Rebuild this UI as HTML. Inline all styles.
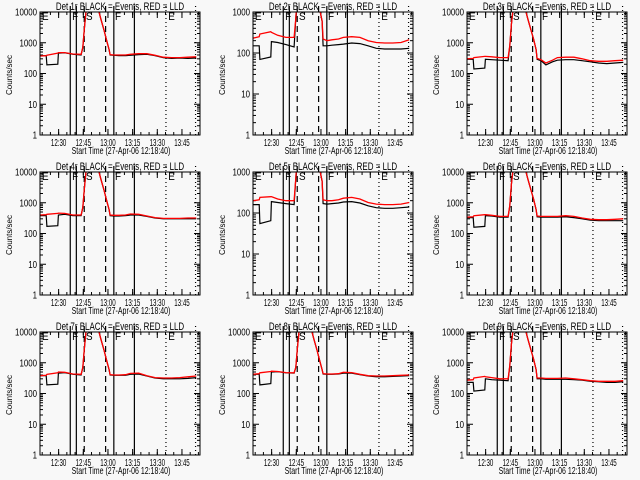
<!DOCTYPE html>
<html><head><meta charset="utf-8">
<style>
html,body{margin:0;padding:0;background:#f8f8f8;}
svg{display:block;font-family:"Liberation Sans",sans-serif;}
</style></head>
<body>
<svg id="chart" width="640" height="480" viewBox="0 0 640 480" xmlns="http://www.w3.org/2000/svg">
<rect x="0" y="0" width="640" height="480" fill="#f8f8f8"/>
</svg>
<script>
// time samples (minutes since 12:18:40)
const times = [0,3.8,4.2,10.8,11.2,15,20,25,26,27,28,31,35,37,39,40.5,42,42.6,45,48,52,55,60,65,70,75,80,85,90,95];
const spikeA = [700,3000,10000,20000,15000,6000,2500,1200,600];
const spikeB = [800,4000,12000,20000,15000,6000,2500,1300,600];
const detNames = ["1r","2r","3r","4r","5r","6r","7r","8r","9r"];
const topDecade = [4,3,4,4,3,4,4,4,4];
const black1 = [380,380,190,200,460,470,420,400, ...spikeA, 400,390,380,380,390,410,420,380,330,310,320,310,320];
const red1   = [370,380,390,460,480,480,430,420, ...spikeA, 410,400,400,400,420,440,440,390,340,330,330,340,350];
const black2 = [150,150,70,80,190,180,160,140, ...spikeA, 150,150,155,160,165,175,170,150,130,125,125,125,130];
const red2   = [230,250,290,330,320,270,240,240, ...spikeA, 220,200,210,220,240,250,240,200,180,175,175,180,210];
const black3 = [290,290,140,150,290,280,270,260, ...spikeB, 290,260,190,240,270,280,280,260,240,220,210,220,230];
const red3   = [300,310,330,360,360,350,330,330, ...spikeB, 310,280,220,270,330,340,340,300,260,250,250,260,270];
const black4 = [380,380,170,180,400,420,380,380, ...spikeA, 380,370,370,380,400,400,360,320,300,300,300,300,300];
const red4   = [400,410,420,450,460,450,400,400, ...spikeA, 400,390,390,400,430,420,370,330,310,310,310,320,320];
const black5 = [160,160,55,65,190,180,170,160, ...spikeA, 170,165,170,175,185,190,175,150,135,130,130,135,140];
const red5   = [200,210,240,250,250,220,200,200, ...spikeA, 210,200,200,210,230,240,220,180,165,160,160,165,180];
const black6 = [330,330,160,170,380,370,340,340, ...spikeB, 350,340,340,340,340,350,330,300,270,260,260,260,260];
const red6   = [340,350,380,410,410,390,360,360, ...spikeB, 370,360,360,360,360,380,360,320,290,280,280,290,300];
const black7 = [380,380,190,200,460,480,420,400, ...spikeA, 400,390,390,390,420,430,370,320,300,300,300,310,330];
const red7   = [380,390,420,470,500,490,430,420, ...spikeA, 410,400,400,410,450,460,380,330,320,320,330,350,370];
const black8 = [420,420,190,210,500,510,470,460, ...spikeA, 430,420,420,430,460,460,410,370,350,350,360,370,380];
const red8   = [420,440,470,520,530,520,480,470, ...spikeA, 440,430,430,440,490,480,420,380,370,370,380,390,400];
const black9 = [230,230,120,130,300,280,270,260, ...spikeB, 300,300,290,290,290,290,280,270,250,240,230,230,240];
const red9   = [270,280,320,360,350,330,300,300, ...spikeB, 320,320,310,310,310,320,300,280,260,250,250,250,260];
const blackSeries = [black1,black2,black3,black4,black5,black6,black7,black8,black9];
const redSeries = [red1,red2,red3,red4,red5,red6,red7,red8,red9];
const solidLines = [18.4,22.1,44.9,57.4];
const dashedLines = [26.9,39.9];
const dottedLines = [76.6,94.6];
const markLetters = ["E","F","S","F","E"];
const markTimes = [1.2,19.5,28,45.6,78];
const xTickLabels = ["12:30","12:45","13:00","13:15","13:30","13:45"];
const xTickTimes = [11.33,26.33,41.33,56.33,71.33,86.33];
const tMax = 97.3;

const NS = "http://www.w3.org/2000/svg";
const svg = document.getElementById("chart");
function mk(tag, attrs, parent){
  const e = document.createElementNS(NS, tag);
  for (const k in attrs) e.setAttribute(k, attrs[k]);
  parent.appendChild(e);
  return e;
}
// text in a scaled group: anchor point (x,y), horizontal scale s
function sText(parent, str, x, y, s, size, anchor){
  const wrap = mk("g", {transform: "translate(" + x + "," + y + ") scale(" + s + ",1)"}, parent);
  const t = mk("text", {x: 0, y: 0, "font-size": size, fill: "#000", "text-anchor": anchor}, wrap);
  t.textContent = str;
  return t;
}
for (let p = 0; p < 9; p++) {
  const col = p % 3, row = Math.floor(p / 3);
  const ox = Math.round(col * 213.33), oy = row * 160;
  const L = ox + 40, R = ox + 200, T = oy + 12, B = oy + 135;
  const nd = topDecade[p];
  const xs = t => L + (t / tMax) * (R - L);
  const ys = v => B - (Math.log10(v) / nd) * (B - T);
  const g = mk("g", {}, svg);
  
  
  const cid = "clip" + p;
  const cp = mk("clipPath", {id: cid}, g);
  mk("rect", {x: L, y: T, width: R - L, height: B - T}, cp);
  for (let i = 0; i < markLetters.length; i++) {
    const ml = sText(g, markLetters[i], xs(markTimes[i]), T + 8, 0.9, 11, "start");
    
    
  }
  const tt = sText(g, "Det " + detNames[p] + " BLACK = Events, RED = LLD", ox + 120, oy + 10, 0.725, 11, "middle");
  
  
  for (let d = 0; d <= nd; d++) {
    const y = ys(Math.pow(10, d));
    const lab = sText(g, String(Math.pow(10, d)), L - 3, y + 3.5, 0.79, 10, "end");
    
    
    mk("line", {x1: L, x2: L + 6, y1: y, y2: y, stroke: "#000"}, g);
    mk("line", {x1: R, x2: R - 6, y1: y, y2: y, stroke: "#000"}, g);
    if (d < nd) for (let m = 2; m <= 9; m++) {
      const ym = ys(m * Math.pow(10, d));
      mk("line", {x1: L, x2: L + 3, y1: ym, y2: ym, stroke: "#000"}, g);
      mk("line", {x1: R, x2: R - 3, y1: ym, y2: ym, stroke: "#000"}, g);
    }
  }
  const yt = mk("text", {x: ox + 12, y: oy + 75, "text-anchor": "middle", "font-size": "8", fill: "#000", transform: "rotate(-90 " + (ox + 12) + " " + (oy + 75) + ")"}, g);
  yt.textContent = "Counts/sec";
  
  
  for (let i = 0; i < xTickTimes.length; i++) {
    const x = xs(xTickTimes[i]);
    mk("line", {x1: x, x2: x, y1: B, y2: B - 6, stroke: "#000"}, g);
    mk("line", {x1: x, x2: x, y1: T, y2: T + 6, stroke: "#000"}, g);
    const xl = sText(g, xTickLabels[i], x, B + 11, 0.62, 10, "middle");
    
    
  }
  for (let t = 1.33; t < tMax; t += 5) {
    const x = xs(t);
    mk("line", {x1: x, x2: x, y1: B, y2: B - 3, stroke: "#000"}, g);
    mk("line", {x1: x, x2: x, y1: T, y2: T + 3, stroke: "#000"}, g);
  }
  const xt = sText(g, "Start Time (27-Apr-06 12:18:40)", ox + 121, B + 19, 0.7, 10, "middle");
  
  
  const vl = (arr, dash, nm) => arr.forEach(t => {
    const ln = mk("line", {x1: xs(t), x2: xs(t), y1: T - 6, y2: B, stroke: "#000", "stroke-width": 1.2, "stroke-dasharray": dash}, g);
    
    
  });
  vl(solidLines, "none", "interval-line-solid");
  vl(dashedLines, "6,4", "interval-line-dashed");
  vl(dottedLines, "1,3", "interval-line-dotted");
  const path = (vals) => {
    let d = "";
    for (let i = 0; i < times.length; i++) {
      d += (i ? "L" : "M") + xs(times[i]).toFixed(1) + "," + ys(vals[i]).toFixed(1);
    }
    return d;
  };
  const bl = mk("path", {d: path(blackSeries[p]), fill: "none", stroke: "#000", "stroke-width": 1.2, "clip-path": "url(#" + cid + ")"}, g);
  
  
  const rl = mk("path", {d: path(redSeries[p]), fill: "none", stroke: "#f00", "stroke-width": 1.3, "clip-path": "url(#" + cid + ")"}, g);
  
  
  const box = mk("rect", {x: L, y: T, width: R - L, height: B - T, fill: "none", stroke: "#000"}, g);
  
  
}
</script>
</body></html>
